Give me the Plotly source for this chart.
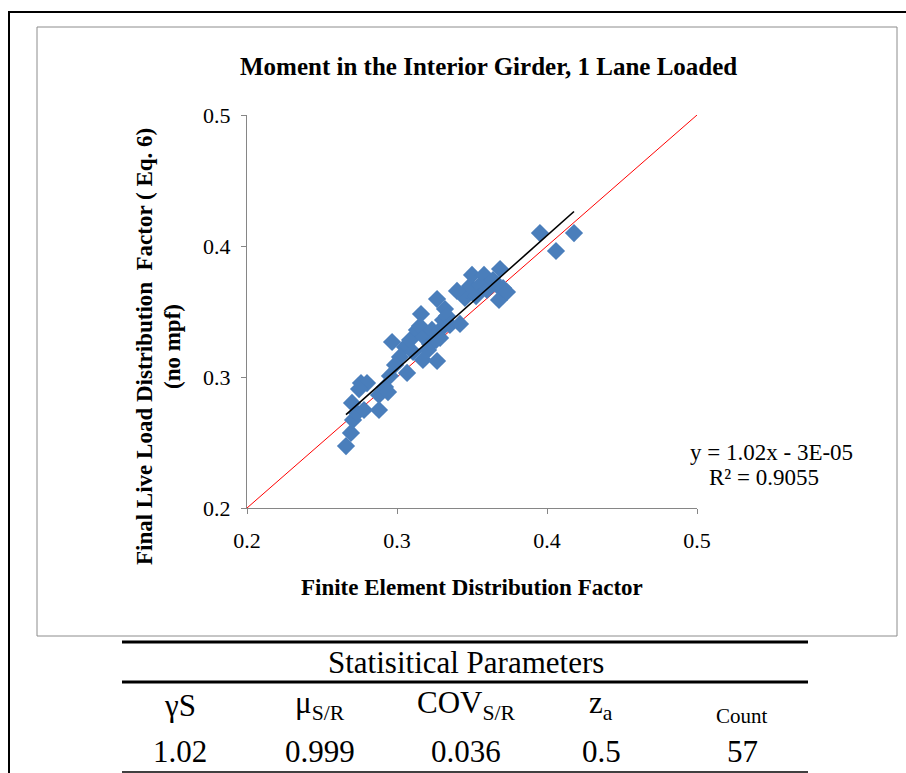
import plotly.graph_objects as go

# ---- data ----
fe_df = [0.266, 0.2693, 0.2707, 0.2733, 0.270, 0.276, 0.280, 0.2747, 0.278, 0.288,
         0.288, 0.292, 0.294, 0.2953, 0.2967, 0.3053, 0.302, 0.3067, 0.3087, 0.3107,
         0.3133, 0.316, 0.3153, 0.318, 0.3173, 0.3207, 0.322, 0.3233, 0.3267, 0.326,
         0.3267, 0.3287, 0.3307, 0.332, 0.3333, 0.3353, 0.3287, 0.342, 0.3453, 0.3467,
         0.3487, 0.350, 0.3527, 0.3553, 0.358, 0.360, 0.3667, 0.3687, 0.368, 0.3707,
         0.3733, 0.3953, 0.406, 0.418, 0.2987, 0.340, 0.364]
final_df = [0.2473, 0.2573, 0.2672, 0.2725, 0.2802, 0.2954, 0.2954, 0.2908, 0.2748, 0.2748,
            0.2863, 0.2924, 0.2885, 0.3008, 0.3267, 0.3229, 0.3153, 0.3031, 0.3282, 0.3191,
            0.3359, 0.3481, 0.3389, 0.3305, 0.313, 0.3206, 0.3252, 0.3359, 0.3122, 0.3282,
            0.3595, 0.3359, 0.3435, 0.3519, 0.3466, 0.3397, 0.3298, 0.3405, 0.3603, 0.3664,
            0.3695, 0.3779, 0.3618, 0.3702, 0.3779, 0.3664, 0.3702, 0.3824, 0.3588, 0.3679,
            0.3649, 0.4099, 0.3962, 0.4099, 0.3092, 0.3657, 0.374]
trend_slope = 1.02
trend_intercept = -3e-05
r_squared = 0.9055
axis_ticks = [0.2, 0.3, 0.4, 0.5]

stat_headers = ["γS", "μ<sub>S/R</sub>", "COV<sub>S/R</sub>", "z<sub>a</sub>", "Count"]
stat_values = ["1.02", "0.999", "0.036", "0.5", "57"]

# ---- layout helpers (pixel -> paper) ----
L, R, T, B = 247, 697, 115, 508
W, H = 906, 773
def px(x):
    return (x - L) / (R - L)
def py(y):
    return (B - y) / (B - T)

SERIF = "Liberation Serif"

fig = go.Figure()

xmin, xmax = min(fe_df), max(fe_df)
fig.add_trace(go.Scatter(x=[0.2, 0.5], y=[0.2, 0.5], mode="lines",
                         line=dict(color="#ff0000", width=1), showlegend=False, hoverinfo="skip"))
fig.add_trace(go.Scatter(x=fe_df, y=final_df, mode="markers",
                         marker=dict(symbol="diamond", size=14, color="#4a7ebb"),
                         showlegend=False))
fig.add_trace(go.Scatter(x=[xmin, xmax],
                         y=[trend_slope * xmin + trend_intercept, trend_slope * xmax + trend_intercept],
                         mode="lines", line=dict(color="black", width=1.6),
                         showlegend=False, hoverinfo="skip"))

axis_common = dict(range=[0.2, 0.5], tickvals=axis_ticks, ticktext=[f"{v:g}" for v in axis_ticks],
                   showgrid=False, zeroline=False, showline=True, linecolor="#868686",
                   linewidth=1, ticks="outside", ticklen=5, tickcolor="#868686",
                   tickfont=dict(family=SERIF, size=22, color="black"))

fig.update_layout(
    width=W, height=H,
    margin=dict(l=L, r=W - R, t=T, b=H - B),
    paper_bgcolor="white", plot_bgcolor="white",
    font=dict(family=SERIF),
    xaxis=dict(**axis_common, ticklabelstandoff=8),
    yaxis=dict(**axis_common, ticklabelstandoff=6),
)

shapes = [
    dict(type="rect", xref="paper", yref="paper", x0=px(9), x1=px(912), y0=py(12), y1=py(790),
         line=dict(color="black", width=2), layer="below"),
    dict(type="rect", xref="paper", yref="paper", x0=px(37), x1=px(897), y0=py(27), y1=py(636),
         line=dict(color="#8c8c8c", width=1), layer="below"),
    dict(type="line", xref="paper", yref="paper", x0=px(122), x1=px(808), y0=py(642), y1=py(642),
         line=dict(color="black", width=3)),
    dict(type="line", xref="paper", yref="paper", x0=px(122), x1=px(808), y0=py(682), y1=py(682),
         line=dict(color="black", width=3)),
    dict(type="line", xref="paper", yref="paper", x0=px(122), x1=px(808), y0=py(772), y1=py(772),
         line=dict(color="black", width=1.5)),
]
fig.update_layout(shapes=shapes)

ann = []
def text(x, y, s, size, bold=False, angle=0):
    ann.append(dict(x=px(x), y=py(y), xref="paper", yref="paper", text=(f"<b>{s}</b>" if bold else s),
                    showarrow=False, xanchor="center", yanchor="middle", textangle=angle,
                    font=dict(family=SERIF, size=size, color="black")))

text(488, 66, "Moment in the Interior Girder, 1 Lane Loaded", 25, bold=True)
text(472, 587, "Finite Element Distribution Factor", 23, bold=True)
text(144, 347, "Final Live Load Distribution  Factor ( Eq. 6)", 23, bold=True, angle=-90)
text(172, 347, "(no mpf)", 23, bold=True, angle=-90)
text(771, 452, f"y = {trend_slope:g}x - 3E-05", 23)
text(764, 477, f"R² = {r_squared}", 23)
text(466, 662, "Statisitical Parameters", 31)

cols = [180, 320, 466, 601, 742]
for i, (h, v) in enumerate(zip(stat_headers, stat_values)):
    if h == "Count":
        text(cols[i], 716, h, 21)
    else:
        text(cols[i], 705, h, 31)
    text(cols[i], 751, v, 31)

fig.update_layout(annotations=ann)
fig.write_html("out.html", config={"displayModeBar": False},
               post_script="document.body.style.margin='0';document.body.style.overflow='hidden';")
